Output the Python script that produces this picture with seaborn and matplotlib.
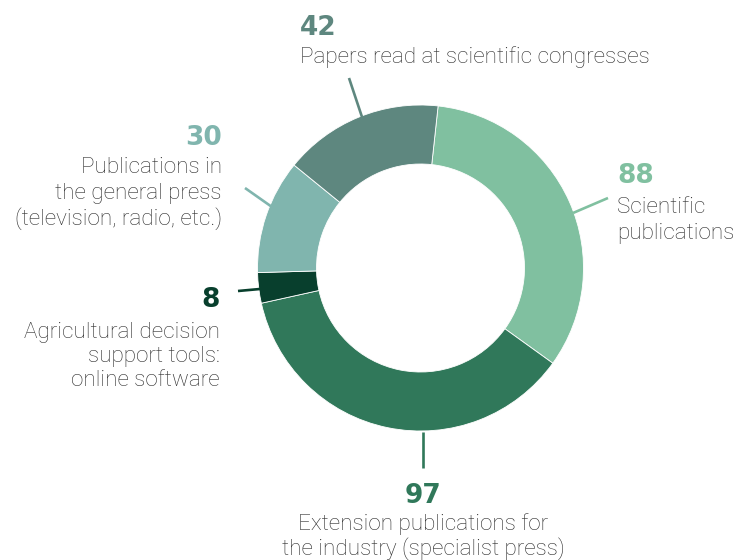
import matplotlib
matplotlib.use("Agg")
import matplotlib.pyplot as plt
import seaborn as sns

# ---- data ----
categories = [
    "Scientific publications",
    "Extension publications for the industry (specialist press)",
    "Agricultural decision support tools: online software",
    "Publications in the general press (television, radio, etc.)",
    "Papers read at scientific congresses",
]
values = [88, 97, 8, 30, 42]
label_lines = [
    ["Scientific", "publications"],
    ["Extension publications for", "the industry (specialist press)"],
    ["Agricultural decision", "support tools:", "online software"],
    ["Publications in", "the general press", "(television, radio, etc.)"],
    ["Papers read at scientific congresses"],
]
colors = ["#80C0A0", "#30785A", "#083F2D", "#80B5AE", "#5E877F"]

# ---- layout (image pixel coordinates, y downwards) ----
W, H = 737, 560
center_img = (420.5, 268)
outer_r, ring_w = 163, 59
leaders = [((573, 213), (608, 198)),
           ((423, 432), (423, 468)),
           ((260, 289), (238, 291)),
           ((272, 207), (245, 188)),
           ((362, 117), (349, 78))]
# (x, number baseline, first label baseline, line spacing, ha)
text_pos = [(617, 183, 213, 26, "left"),
            (423, 503, 530, 25, "center"),
            (220, 307, 338, 24, "right"),
            (222, 145, 173, 26, "right"),
            (300, 35, 63, 26, "left")]

sns.set_theme(style="white")
plt.rcParams["font.family"] = ["Roboto", "DejaVu Sans"]

fig = plt.figure(figsize=(W / 100, H / 100), dpi=100)
ax = fig.add_axes([0, 0, 1, 1])

ax.pie(values, colors=colors, startangle=90 - 6.2, counterclock=False,
       center=(center_img[0], H - center_img[1]), radius=outer_r,
       wedgeprops=dict(width=ring_w, edgecolor="white", linewidth=0.6))
ax.set_xlim(0, W)
ax.set_ylim(0, H)
ax.set_aspect("equal")
ax.axis("off")

for (p0, p1), c in zip(leaders, colors):
    ax.plot([p0[0], p1[0]], [H - p0[1], H - p1[1]], color=c, lw=1.9,
            solid_capstyle="butt")

for v, lines, c, (x, nb, lb, sp, ha) in zip(values, label_lines, colors, text_pos):
    ax.text(x, H - nb, str(v), color=c, fontsize=19, fontweight="bold",
            family="DejaVu Sans", ha=ha, va="baseline")
    for i, ln in enumerate(lines):
        ax.text(x, H - (lb + i * sp), ln, color="#2e2e2e", fontsize=16.2,
                fontweight="light", ha=ha, va="baseline")

fig.savefig("out.png", dpi=100)
